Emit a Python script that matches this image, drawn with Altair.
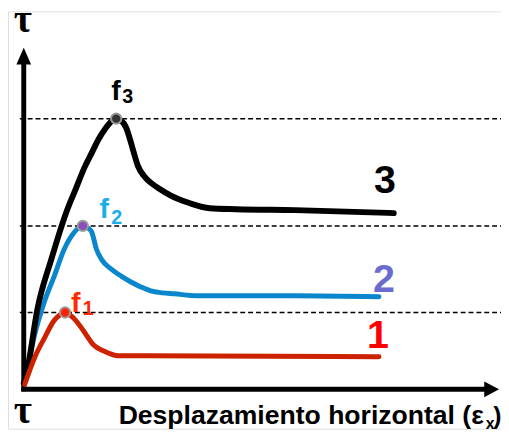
import altair as alt
import pandas as pd

# ---- data (units: horizontal displacement vs shear stress, origin at 0,0) ----
x3 = [0, 4, 14, 28, 44, 53, 62, 69, 76, 83, 89, 94, 99, 104, 108, 112, 116, 122, 129, 139, 149, 169, 189, 216, 276, 376]
y3 = [3, 19, 79, 129, 179, 201, 223, 237, 251, 262, 269, 272, 270, 263, 251, 237, 224, 214, 207, 200, 194, 186, 181, 180, 179, 176]

x2 = [0, 4, 11, 21, 31, 41, 51, 60, 65, 69, 74, 79, 89, 99, 109, 119, 129, 141, 153, 176, 276, 361]
y2 = [3, 19, 52, 86, 112, 139, 156, 163, 161, 157, 139, 129, 119, 112, 106, 101, 97, 95, 94, 92, 92, 91]

x1 = [1, 6, 11, 21, 31, 36, 42, 51, 61, 71, 81, 96, 126, 361]
y1 = [2, 16, 29, 49, 67, 72, 75, 69, 56, 42, 36, 31, 31, 30]

peak_names = ["f3", "f2", "f1"]
peak_x = [94, 60, 42]
peak_y = [272, 163, 75]
peak_fill = ["#333333", "#8a4fb8", "#ff2200"]

XMIN, XMAX = -16, 485
YMIN, YMAX = -43, 381
W, H = 501, 424

xs = alt.Scale(domain=[XMIN, XMAX], nice=False, zero=False)
ys = alt.Scale(domain=[YMIN, YMAX], nice=False, zero=False)


def X(f="x"):
    return alt.X(f"{f}:Q", scale=xs, axis=None)


def Y(f="y"):
    return alt.Y(f"{f}:Q", scale=ys, axis=None)


layers = []

# dashed reference lines at each peak level
dash = pd.DataFrame({"x": [-4] * 3, "x2": [XMAX] * 3, "y": peak_y})
layers.append(
    alt.Chart(dash).mark_rule(color="black", strokeWidth=1.5, strokeDash=[5, 3]).encode(
        x=X(), x2="x2:Q", y=Y()
    )
)

# axes (arrows)
yaxis = pd.DataFrame({"x": [0], "y": [-5], "y2": [328]})
layers.append(
    alt.Chart(yaxis).mark_rule(color="black", strokeWidth=5).encode(x=X(), y=Y(), y2="y2:Q")
)
xaxis = pd.DataFrame({"x": [-2.5], "x2": [470], "y": [-3]})
layers.append(
    alt.Chart(xaxis).mark_rule(color="black", strokeWidth=5).encode(x=X(), x2="x2:Q", y=Y())
)
layers.append(
    alt.Chart(pd.DataFrame({"x": [0], "y": [335.5]})).mark_point(
        shape="M-0.88,1L0,-1L0.88,1Z", size=289, filled=True, color="black", opacity=1
    ).encode(x=X(), y=Y())
)
layers.append(
    alt.Chart(pd.DataFrame({"x": [475.5], "y": [-3]})).mark_point(
        shape="M-0.94,-1L0.94,0L-0.94,1Z", size=256, filled=True, color="black", opacity=1
    ).encode(x=X(), y=Y())
)

# curves
def curve(xv, yv, color, w):
    return alt.Chart(pd.DataFrame({"x": xv, "y": yv})).mark_line(
        color=color, strokeWidth=w, interpolate="monotone", strokeCap="round", strokeJoin="round"
    ).encode(x=X(), y=Y(), order="x:Q")


layers.append(curve(x2, y2, "#0a87cc", 5))
layers.append(curve(x3, y3, "#000000", 6))
layers.append(curve(x1, y1, "#cc2200", 5))

# peak markers
pk = pd.DataFrame({"name": peak_names, "x": peak_x, "y": peak_y, "fill": peak_fill})
layers.append(
    alt.Chart(pk).mark_point(filled=True, size=110, stroke="#9a9a9a", strokeWidth=2, opacity=1).encode(
        x=X(), y=Y(), fill=alt.Fill("fill:N", scale=None), strokeOpacity=alt.value(1)
    )
)


def text(t, x, y, size, color, align="left", font="Liberation Sans", weight="bold"):
    return alt.Chart(pd.DataFrame({"t": [t], "x": [x], "y": [y]})).mark_text(
        fontSize=size, font=font, fontWeight=weight, color=color, align=align, baseline="alphabetic"
    ).encode(x=X(), y=Y(), text="t:N")


# peak labels f3, f2, f1
layers += [
    text("f", 89, 291, 29, "#000000"),
    text("3", 100, 288, 20, "#000000"),
    text("f", 77, 171, 29, "#1aaee8"),
    text("2", 89, 165, 20, "#1aaee8"),
    text("f", 48, 76, 29, "#ff2a00"),
    text("1", 60, 72, 20, "#ff2a00"),
]

# curve numbers
layers += [
    text("3", 367, 196, 40, "#000000", align="center"),
    text("2", 366, 96, 40, "#6b6bd0", align="center"),
    text("1", 360, 39, 40, "#ff0000", align="center"),
]

# tau labels
layers += [
    text("τ", -1, 360, 40, "#000000", align="center", font="Liberation Serif"),
    text("τ", -1, -37, 40, "#000000", align="center", font="Liberation Serif"),
]

# x-axis title
layers += [
    text("Desplazamiento horizontal (ε", 467.5, -38, 27, "#000000", align="right"),
    text("x", 469.5, -43, 16, "#000000"),
    text(")", 477, -38, 25, "#000000"),
]

chart = (
    alt.layer(*layers)
    .properties(width=W, height=H, autosize=alt.AutoSizeParams(type="none"), padding=0)
    .configure_view(strokeWidth=0, stroke="transparent")
    .configure(background="white")
)

chart.save("out.html", embed_options={"renderer": "svg", "actions": False})
